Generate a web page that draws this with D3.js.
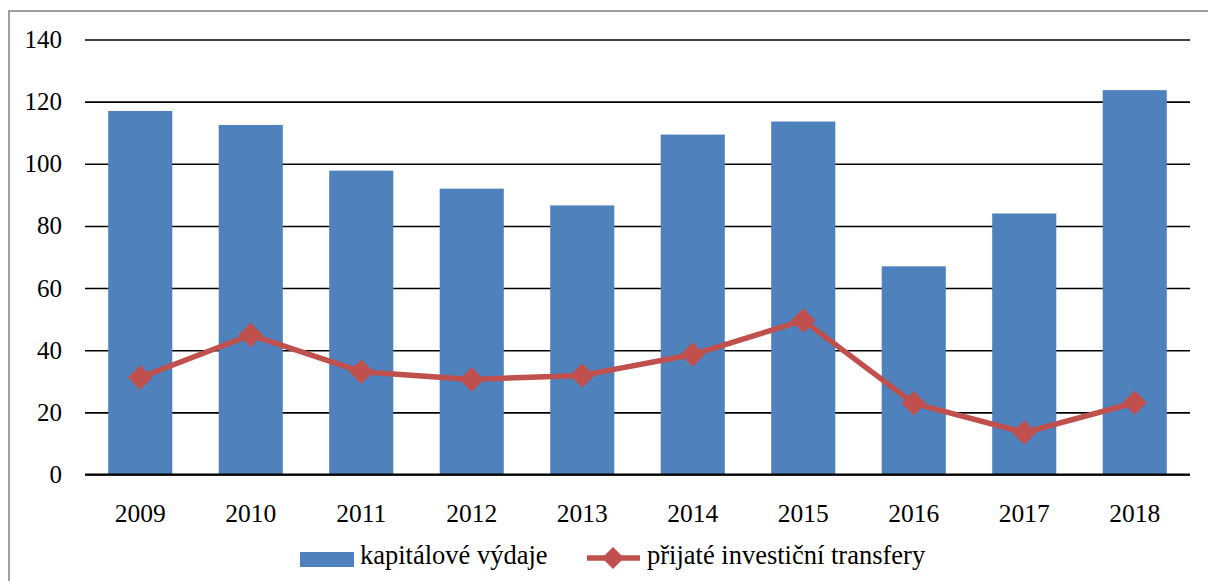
<!DOCTYPE html>
<html>
<head>
<meta charset="utf-8">
<script src="https://cdn.jsdelivr.net/npm/d3@7"></script>
</head>
<body style="margin:0">
<script>
// data
var roky = ["2009", "2010", "2011", "2012", "2013", "2014", "2015", "2016", "2017", "2018"];
var kapitaloveVydaje = [117, 112.5, 97.8, 92, 86.6, 109.4, 113.6, 67, 84, 123.7];
var prijateTransfery = [31.2, 44.9, 33.1, 30.6, 31.9, 38.6, 49.6, 22.9, 13.5, 23.1];
var osaY = [0, 20, 40, 60, 80, 100, 120, 140];

var width = 1208;
var height = 581;
var margin = { left: 85, right: 18, top: 40, bottom: 106 };
var modra = "#4F81BD";
var cervena = "#C0504D";
var pismo = "'Liberation Serif'";

var svg = d3.select("body")
  .append("svg")
  .attr("width", width)
  .attr("height", height)
  .style("display", "block")
  .style("font-family", pismo);

// ramecek
svg.append("rect")
  .attr("x", 9)
  .attr("y", 11)
  .attr("width", width)
  .attr("height", height)
  .attr("fill", "none")
  .attr("stroke", "#a0a0a0")
  .attr("stroke-width", 2);

var x = d3.scaleBand()
  .domain(roky)
  .range([margin.left, width - margin.right])
  .paddingInner(0.42)
  .paddingOuter(0.21);

var y = d3.scaleLinear()
  .domain([0, 140])
  .range([height - margin.bottom - 0.5, margin.top - 0.5]);

// mrizka
var osa = d3.axisLeft(y)
  .tickValues(osaY)
  .tickSize(-(width - margin.left - margin.right))
  .tickPadding(23);

var gOsa = svg.append("g")
  .attr("transform", "translate(" + margin.left + ",0)")
  .call(osa);
gOsa.attr("font-family", null).attr("font-size", null);
gOsa.select(".domain").remove();
gOsa.selectAll(".tick line")
  .attr("stroke", "#000")
  .attr("stroke-width", 1.6);
gOsa.selectAll(".tick text")
  .style("font-family", pismo)
  .style("font-size", "25px")
  .attr("fill", "#000");

// sloupce
svg.append("g")
  .selectAll("rect")
  .data(kapitaloveVydaje)
  .enter()
  .append("rect")
  .attr("x", (d, i) => x(roky[i]))
  .attr("y", d => y(d))
  .attr("width", x.bandwidth())
  .attr("height", d => y(0) - y(d))
  .attr("fill", modra);

// osa x
svg.append("line")
  .attr("x1", margin.left)
  .attr("x2", width - margin.right)
  .attr("y1", y(0))
  .attr("y2", y(0))
  .attr("stroke", "#000")
  .attr("stroke-width", 2);

svg.append("g")
  .selectAll("text")
  .data(roky)
  .enter()
  .append("text")
  .text(d => d)
  .attr("x", d => x(d) + x.bandwidth() / 2)
  .attr("y", 522)
  .attr("text-anchor", "middle")
  .style("font-family", pismo)
  .style("font-size", "25.5px")
  .attr("fill", "#000");

// cara
var cara = d3.line()
  .x((d, i) => x(roky[i]) + x.bandwidth() / 2)
  .y(d => y(d));

svg.append("path")
  .datum(prijateTransfery)
  .attr("d", cara)
  .attr("fill", "none")
  .attr("stroke", cervena)
  .attr("stroke-width", 5.5)
  .attr("stroke-linejoin", "round");

var kosoctverec = d3.symbol().type(d3.symbolSquare).size(300);

svg.append("g")
  .selectAll("path")
  .data(prijateTransfery)
  .enter()
  .append("path")
  .attr("d", kosoctverec)
  .attr("transform", (d, i) => "translate(" + (x(roky[i]) + x.bandwidth() / 2) + "," + y(d) + ") rotate(45)")
  .attr("fill", cervena);

// legenda
var leg = svg.append("g");
leg.append("rect")
  .attr("x", 300)
  .attr("y", 552)
  .attr("width", 54)
  .attr("height", 15)
  .attr("fill", modra);
leg.append("text")
  .text("kapitálové výdaje")
  .attr("x", 360)
  .attr("y", 564)
  .style("font-family", pismo)
  .style("font-size", "26.5px")
  .attr("fill", "#000");
leg.append("line")
  .attr("x1", 587)
  .attr("x2", 640)
  .attr("y1", 558)
  .attr("y2", 558)
  .attr("stroke", cervena)
  .attr("stroke-width", 5.5);
leg.append("path")
  .attr("d", d3.symbol().type(d3.symbolSquare).size(242))
  .attr("transform", "translate(613,558) rotate(45)")
  .attr("fill", cervena);
leg.append("text")
  .text("přijaté investiční transfery")
  .attr("x", 647)
  .attr("y", 564)
  .style("font-family", pismo)
  .style("font-size", "26.5px")
  .attr("fill", "#000");
</script>
</body>
</html>
